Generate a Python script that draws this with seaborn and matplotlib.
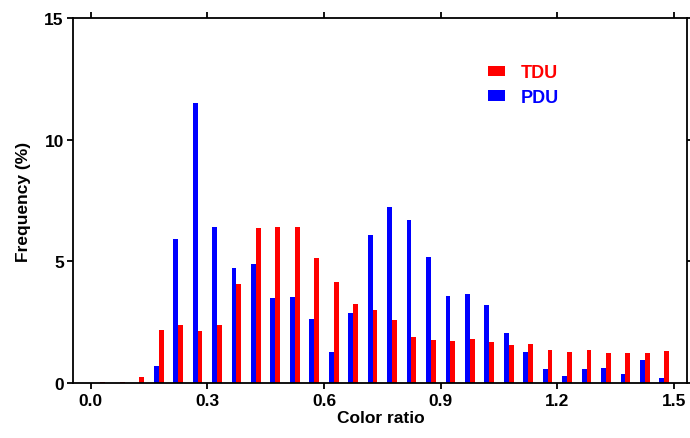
import numpy as np
import pandas as pd
import matplotlib
matplotlib.use("Agg")
import matplotlib.pyplot as plt
from matplotlib.patches import Patch
import seaborn as sns

# Data (bin centers of color ratio, frequency in %)
bin_centers = [0.025, 0.075, 0.125, 0.175, 0.225, 0.275, 0.325, 0.375, 0.425, 0.475,
               0.525, 0.575, 0.625, 0.675, 0.725, 0.775, 0.825, 0.875, 0.925, 0.975,
               1.025, 1.075, 1.125, 1.175, 1.225, 1.275, 1.325, 1.375, 1.425, 1.475]
tdu = [0.03, 0.04, 0.23, 2.18, 2.37, 2.15, 2.39, 4.06, 6.37, 6.42,
       6.41, 5.13, 4.14, 3.24, 2.99, 2.59, 1.88, 1.77, 1.72, 1.81,
       1.67, 1.58, 1.59, 1.35, 1.26, 1.35, 1.25, 1.25, 1.22, 1.32]
pdu = [0.0, 0.0, 0.0, 0.71, 5.94, 11.52, 6.42, 4.75, 4.9, 3.49,
       3.53, 2.63, 1.26, 2.89, 6.1, 7.26, 6.72, 5.17, 3.59, 3.66,
       3.2, 2.04, 1.26, 0.59, 0.28, 0.56, 0.63, 0.36, 0.96, 0.21]
series = ["TDU", "PDU"]
colors = {"TDU": "#ff0000", "PDU": "#0000ff"}
x_ticks = [0.0, 0.3, 0.6, 0.9, 1.2, 1.5]
y_ticks = [0, 5, 10, 15]

df = pd.DataFrame({
    "ratio": bin_centers * 2,
    "freq": tdu + pdu,
    "series": ["TDU"] * len(tdu) + ["PDU"] * len(pdu),
})

sns.set_style("ticks")
plt.rcParams["font.family"] = ["Liberation Sans", "DejaVu Sans"]
plt.rcParams["font.weight"] = "bold"
plt.rcParams["text.color"] = "black"
plt.rcParams["axes.labelcolor"] = "black"
plt.rcParams["xtick.color"] = "black"
plt.rcParams["ytick.color"] = "black"

fig = plt.figure(figsize=(6.9, 4.39), dpi=100)
ax = fig.add_axes([0.1065, 0.1253, 0.8895, 0.8303])

sns.histplot(data=df, x="ratio", weights="freq", hue="series",
             hue_order=["PDU", "TDU"], palette=colors,
             binwidth=0.05, binrange=(0, 1.5), multiple="dodge", shrink=0.5,
             alpha=1, edgecolor="none", linewidth=0, legend=False, ax=ax)

ax.set_xlim(-0.044, 1.534)
ax.set_ylim(0, 15)
ax.set_xticks(x_ticks)
ax.set_xticklabels([f"{t:.1f}" for t in x_ticks], fontsize=12.5, fontweight="bold", color="black")
ax.set_yticks(y_ticks)
ax.set_yticklabels([str(t) for t in y_ticks], fontsize=12.5, fontweight="bold", color="black")
ax.set_xlabel("Color ratio", fontsize=12.5, fontweight="bold", labelpad=2, color="black")
ax.set_ylabel("Frequency (%)", fontsize=12.5, fontweight="bold", labelpad=9.5, color="black")

for s in ax.spines.values():
    s.set_visible(True)
    s.set_linewidth(1.3)
    s.set_color("black")
ax.tick_params(axis="both", which="major", direction="out", length=4, width=1.3,
               top=True, right=True, labeltop=False, labelright=False, pad=3,
               color="black", labelcolor="black")

handles = [Patch(facecolor=colors[s], edgecolor="none") for s in series]
leg = ax.legend(handles, series, loc="upper left", bbox_to_anchor=(0.661, 0.899),
                frameon=False, borderpad=0, handlelength=0.95, handleheight=0.55,
                handletextpad=0.85, labelspacing=0.42,
                prop={"size": 13, "weight": "bold"}, labelcolor=[colors[s] for s in series])

fig.savefig("out.png", dpi=100)
